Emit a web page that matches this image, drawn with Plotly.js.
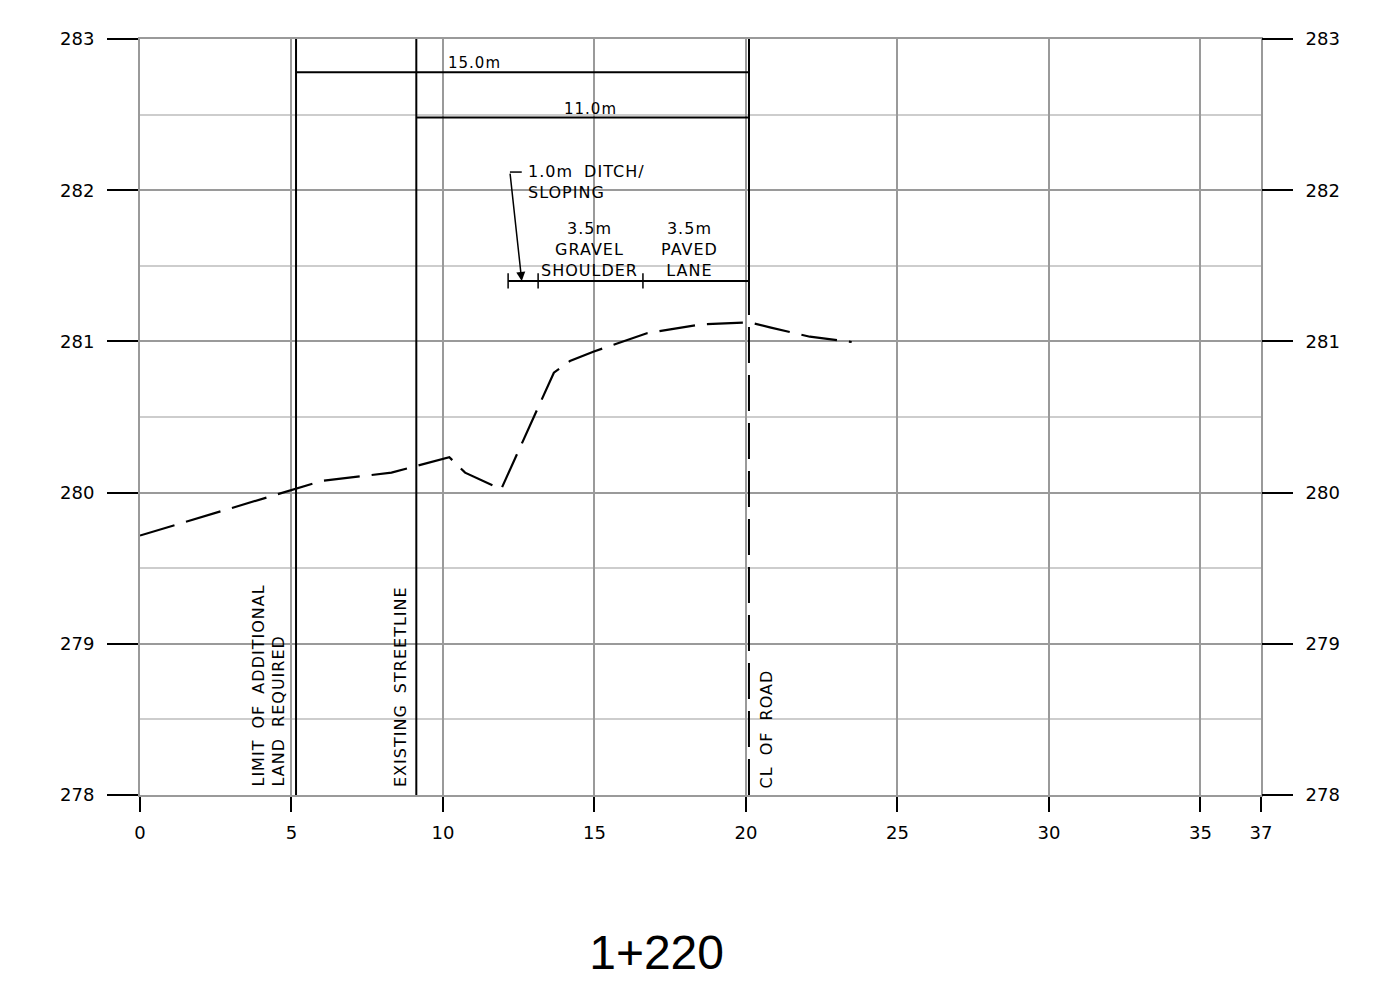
<!DOCTYPE html>
<html>
<head>
<meta charset="utf-8">
<script src="https://cdn.plot.ly/plotly-3.0.1.min.js"></script>
<style>
html,body{margin:0;padding:0;background:#fff;}
#chart{width:1400px;height:989px;}
text.annotation-text{letter-spacing:1px; word-spacing:5px;}
</style>
</head>
<body>
<div id="chart"></div>
<script>
// Ground profile (offset m, elevation m)
const groundX = [0, 5.17, 6.0, 8.3, 10.21, 10.73, 11.92, 13.66, 14.19, 14.96, 16.73, 18.54, 20.11, 20.79, 22.11, 23.49];
const groundY = [279.716, 280.024, 280.077, 280.132, 280.234, 280.132, 280.022, 280.793, 280.87, 280.932, 281.054, 281.113, 281.126, 281.093, 281.031, 280.996];

// Reference lines
const limitX = 5.15;
const streetX = 9.12;
const clX = 20.1;

// Dimension lines
const dimLabels = ['15.0m', '11.0m'];
const dimStart = [5.15, 9.12];
const dimEnd = [20.1, 20.1];
const dimY = [282.78, 282.48];
const dimLabelX = [10.1, 13.93];

// Cross-section element dimension ticks
const elemTicks = [12.15, 13.14, 16.6, 20.1];
const elemY = 281.40;

const xTicks = [0, 5, 10, 15, 20, 25, 30, 35, 37];
const yTicks = [278, 279, 280, 281, 282, 283];

const FONT = 'DejaVu Sans, Liberation Sans, sans-serif';

const shapes = [];
[limitX, streetX].forEach(x => shapes.push({type:'line', xref:'x', yref:'y', x0:x, x1:x, y0:278, y1:283, line:{color:'#000', width:2}}));
shapes.push({type:'line', xref:'x', yref:'y', x0:clX, x1:clX, y0:281.4, y1:283, line:{color:'#000', width:2}});
shapes.push({type:'line', xref:'x', yref:'y', x0:clX, x1:clX, y0:278, y1:281.4, line:{color:'#000', width:2, dash:'36px,12px'}});
dimY.forEach((y, i) => shapes.push({type:'line', xref:'x', yref:'y', x0:dimStart[i], x1:dimEnd[i], y0:y, y1:y, line:{color:'#000', width:2}}));
shapes.push({type:'line', xref:'x', yref:'y', x0:elemTicks[0], x1:elemTicks[elemTicks.length-1], y0:elemY, y1:elemY, line:{color:'#000', width:2}});
elemTicks.forEach(x => shapes.push({type:'line', xref:'x', yref:'y', x0:x, x1:x, y0:elemY-0.05, y1:elemY+0.05, line:{color:'#000', width:1.5}}));
shapes.push({type:'line', xref:'x', yref:'y', x0:12.21, x1:12.6, y0:282.12, y1:282.12, line:{color:'#000', width:1.5}});

const tf = {family: FONT, size: 16, color: '#000'};
const annotations = [];
dimLabels.forEach((t, i) => annotations.push({x: dimLabelX[i], y: dimY[i], xref:'x', yref:'y', text: t, showarrow:false, xanchor:'left', yanchor:'bottom', yshift:-2, font:{family:FONT, size:15, color:'#000'}}));
annotations.push({x:12.6, y:elemY, ax:12.21, ay:282.12, xref:'x', yref:'y', axref:'x', ayref:'y', text:'', showarrow:true, arrowhead:2, arrowsize:1.2, arrowwidth:1.5, arrowcolor:'#000'});
annotations.push({x:12.74, y:282.12, xref:'x', yref:'y', text:'1.0m DITCH/<br>SLOPING', showarrow:false, xanchor:'left', yanchor:'top', yshift:12, align:'left', font:tf});
annotations.push({x:14.85, y:elemY, xref:'x', yref:'y', text:'3.5m<br>GRAVEL<br>SHOULDER', showarrow:false, xanchor:'center', yanchor:'bottom', yshift:-1, align:'center', font:tf});
annotations.push({x:18.15, y:elemY, xref:'x', yref:'y', text:'3.5m<br>PAVED<br>LANE', showarrow:false, xanchor:'center', yanchor:'bottom', yshift:-1, align:'center', font:tf});
annotations.push({x:4.97, y:278.04, xref:'x', yref:'y', text:'LIMIT OF ADDITIONAL<br>LAND REQUIRED', textangle:-90, showarrow:false, xanchor:'right', yanchor:'bottom', align:'left', font:tf});
annotations.push({x:8.98, y:278.04, xref:'x', yref:'y', text:'EXISTING STREETLINE', textangle:-90, showarrow:false, xanchor:'right', yanchor:'bottom', align:'left', font:tf});
annotations.push({x:20.3, y:278.03, xref:'x', yref:'y', text:'CL OF ROAD', textangle:-90, showarrow:false, xanchor:'left', yanchor:'bottom', align:'left', font:tf});

const traces = [
  {x: groundX, y: groundY, type:'scatter', mode:'lines', line:{color:'#000', width:2.2, dash:'36px,12px'}, hoverinfo:'skip', showlegend:false},
  {x: [0], y: [278], yaxis:'y2', type:'scatter', mode:'markers', marker:{opacity:0}, hoverinfo:'skip', showlegend:false}
];

const yCommon = {
  range:[278, 283], tickmode:'array', tickvals: yTicks, ticktext: yTicks.map(String),
  ticks:'outside', ticklen:31, tickwidth:2, tickcolor:'#000',
  tickfont:{family:FONT, size:18, color:'#000'},
  showgrid:true, gridcolor:'#9a9a9a', gridwidth:2, zeroline:false, fixedrange:true,
  ticklabelstandoff: 9
};

const layout = {
  width:1400, height:989,
  margin:{l:140, r:139, t:39, b:194},
  paper_bgcolor:'#fff', plot_bgcolor:'#fff',
  title:{text:'1+220', xref:'container', yref:'container', x:0.469, y:0.037, xanchor:'center', yanchor:'middle', font:{family:'Liberation Sans, Arial, sans-serif', size:48, color:'#000'}},
  xaxis:{
    range:[0, 37], tickmode:'array', tickvals:xTicks, ticktext:xTicks.map(String),
    ticks:'outside', ticklen:15, tickwidth:2, tickcolor:'#000',
    tickfont:{family:FONT, size:18, color:'#000'},
    showgrid:true, gridcolor:'#9a9a9a', gridwidth:2, zeroline:false,
    showline:true, linecolor:'#9a9a9a', linewidth:2, mirror:true, ticklabelstandoff: 5
  },
  yaxis:Object.assign({}, yCommon, {side:'left', showline:true, linecolor:'#9a9a9a', linewidth:2, mirror:true,
    minor:{dtick:0.5, tick0:278, showgrid:true, gridcolor:'#cdcdcd', gridwidth:2, ticks:''}}),
  yaxis2:Object.assign({}, yCommon, {side:'right', overlaying:'y', showgrid:false}),
  shapes: shapes,
  annotations: annotations,
  showlegend:false
};

Plotly.newPlot('chart', traces, layout, {staticPlot:true});
</script>
</body>
</html>
